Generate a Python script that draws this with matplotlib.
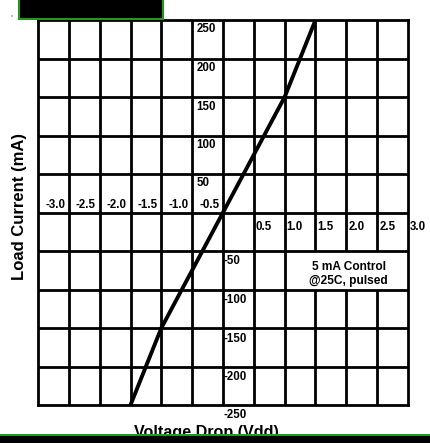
import matplotlib
matplotlib.use("Agg")
import matplotlib.pyplot as plt
from matplotlib.patches import Rectangle

plt.rcParams['font.family'] = ['Liberation Sans', 'DejaVu Sans']

# ---- data ----
voltage = [-1.5, -1.0, 0.0, 1.0, 1.5]
current = [-250, -150, 0, 150, 250]
x_neg_ticks = [-3.0, -2.5, -2.0, -1.5, -1.0, -0.5]
x_pos_ticks = [0.5, 1.0, 1.5, 2.0, 2.5, 3.0]
y_pos_ticks = [250, 200, 150, 100, 50]
y_neg_ticks = [-50, -100, -150, -200, -250]
note_text = "5 mA Control\n@25C, pulsed"
x_label = "Voltage Drop (Vdd)"
y_label = "Load Current (mA)"

W, H = 431, 443
DPI = 100
fig = plt.figure(figsize=(W / DPI, H / DPI), dpi=DPI)

def px(v):
    return v * 72.0 / DPI  # pixels to points

L, R, T, B = 38, 408, 20, 405
ax = fig.add_axes([L / W, (H - B) / H, (R - L) / W, (B - T) / H])
ax.set_xlim(-3, 3)
ax.set_ylim(-250, 250)
ax.set_xticks([])
ax.set_yticks([])
for s in ax.spines.values():
    s.set_linewidth(2.0)
    s.set_color('black')

grid_lw = 2.0
xs = [i * 0.5 for i in range(-5, 6)]
ys = [i * 50 for i in range(-4, 5)]
for x in xs:
    ax.axvline(x, color='black', lw=grid_lw, zorder=1)
for y in ys:
    ax.axhline(y, color='black', lw=grid_lw, zorder=3)

# white background behind the note (hides vertical gridlines)
ax.add_patch(Rectangle((1.33, -100), 1.45, 50, facecolor='white',
                       edgecolor='none', zorder=2))

ax.plot(voltage, current, color='black', lw=2.8, zorder=4,
        solid_capstyle='butt')

fs = 8.3
for v in x_neg_ticks:
    ax.annotate(f"{v:.1f}", xy=(v, 0), xytext=(px(7), px(8)),
                textcoords='offset points', ha='left', va='center',
                fontsize=fs, fontweight='bold', zorder=5)
for v in x_pos_ticks:
    ax.annotate(f"{v:.1f}", xy=(v, 0), xytext=(px(2), px(-15)),
                textcoords='offset points', ha='left', va='center',
                fontsize=fs, fontweight='bold', zorder=5, annotation_clip=False)
for v in y_pos_ticks:
    ax.annotate(f"{v}", xy=(-0.5, v), xytext=(px(4), px(-9.5)),
                textcoords='offset points', ha='left', va='center',
                fontsize=fs, fontweight='bold', zorder=5)
for v in y_neg_ticks:
    ax.annotate(f"{v}", xy=(0, v), xytext=(px(1), px(-10.5)),
                textcoords='offset points', ha='left', va='center',
                fontsize=fs, fontweight='bold', zorder=5, annotation_clip=False)

ax.text(2.04, -80, note_text, ha='center', va='center', fontsize=8.6,
        fontweight='bold', linespacing=1.3, zorder=5)

# axis labels
fig.text(19.5 / W, 1 - 207 / H, y_label, rotation=90, ha='center',
         va='center', fontsize=12, fontweight='bold')
fig.text(206 / W, 1 - 425 / H, x_label, ha='center', va='top',
         fontsize=11.6, fontweight='bold', zorder=1)

# decorative bars
green = '#1f9a1f'
fig.patches.append(Rectangle((0, 0), 1, 7 / H, transform=fig.transFigure,
                             facecolor='black', edgecolor='none', zorder=10))
fig.patches.append(Rectangle((0, 7 / H), 1, 2.2 / H, transform=fig.transFigure,
                             facecolor=green, edgecolor='none', zorder=10))
fig.patches.append(Rectangle((19 / W, 1 - 18.5 / H), 144 / W, 20 / H,
                             transform=fig.transFigure, facecolor='black',
                             edgecolor=green, linewidth=1.5, zorder=10))
fig.patches.append(Rectangle((11 / W, 1 - 17 / H), 2 / W, 2 / H,
                             transform=fig.transFigure, facecolor='#bbbbbb',
                             edgecolor='none', zorder=10))

fig.savefig("out.png", dpi=DPI)
